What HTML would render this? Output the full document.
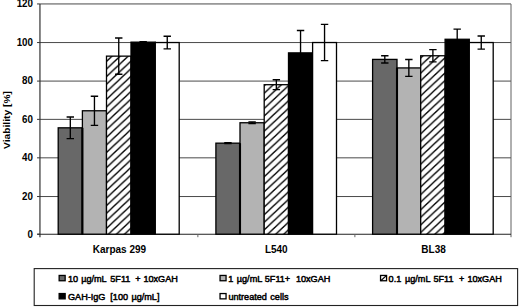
<!DOCTYPE html>
<html><head><meta charset="utf-8"><style>
html,body{margin:0;padding:0;background:#fff;}
body{width:520px;height:307px;overflow:hidden;font-family:"Liberation Sans",sans-serif;}
svg{display:block}
text{font-family:"Liberation Sans",sans-serif;fill:#000}
.b{font-weight:bold}
.l{font-size:9.5px;stroke:#000;stroke-width:0.5px;stroke-linejoin:round}
</style></head><body>
<svg width="520" height="307" viewBox="0 0 520 307">
<defs>
<pattern id="h0" width="8.07" height="7.59" patternUnits="userSpaceOnUse" patternTransform="translate(107,144.4)"><rect width="8.07" height="7.59" fill="#fff"/><path d="M-8.07 7.59L8.07 -7.59M0 15.18L16.14 0M-8.07 15.18L16.14 -7.59" stroke="#000" stroke-width="1.35" fill="none"/></pattern><pattern id="h1" width="8.07" height="7.59" patternUnits="userSpaceOnUse" patternTransform="translate(264.2,131.2)"><rect width="8.07" height="7.59" fill="#fff"/><path d="M-8.07 7.59L8.07 -7.59M0 15.18L16.14 0M-8.07 15.18L16.14 -7.59" stroke="#000" stroke-width="1.35" fill="none"/></pattern><pattern id="h2" width="8.07" height="7.59" patternUnits="userSpaceOnUse" patternTransform="translate(420.7,133.8)"><rect width="8.07" height="7.59" fill="#fff"/><path d="M-8.07 7.59L8.07 -7.59M0 15.18L16.14 0M-8.07 15.18L16.14 -7.59" stroke="#000" stroke-width="1.35" fill="none"/></pattern>
</defs>
<rect width="520" height="307" fill="#fff"/>

<line x1="39.95" x2="511.0" y1="196.54" y2="196.54" stroke="#4a4a4a" stroke-width="1"/>
<line x1="39.95" x2="511.0" y1="157.84" y2="157.84" stroke="#4a4a4a" stroke-width="1"/>
<line x1="39.95" x2="511.0" y1="119.37" y2="119.37" stroke="#4a4a4a" stroke-width="1"/>
<line x1="39.95" x2="511.0" y1="81.08" y2="81.08" stroke="#4a4a4a" stroke-width="1"/>
<line x1="39.95" x2="511.0" y1="42.55" y2="42.55" stroke="#4a4a4a" stroke-width="1"/>
<line x1="39.95" x2="511.0" y1="3.95" y2="3.95" stroke="#4a4a4a" stroke-width="1"/>
<line x1="511.0" x2="511.0" y1="3.95" y2="237.2" stroke="#606060" stroke-width="1"/>
<line x1="39.95" x2="39.95" y1="3.95" y2="237.2" stroke="#2a2a2a" stroke-width="1.15"/>
<line x1="37.25" x2="511.0" y1="234.2" y2="234.2" stroke="#222" stroke-width="1.1"/>
<line x1="37.050000000000004" x2="39.95" y1="234.20" y2="234.20" stroke="#333" stroke-width="1"/>
<text class="b" transform="translate(33,237.60) scale(0.96,1)" font-size="10.2" text-anchor="end">0</text>
<line x1="37.050000000000004" x2="39.95" y1="196.54" y2="196.54" stroke="#333" stroke-width="1"/>
<text class="b" transform="translate(33,199.94) scale(0.96,1)" font-size="10.2" text-anchor="end">20</text>
<line x1="37.050000000000004" x2="39.95" y1="157.84" y2="157.84" stroke="#333" stroke-width="1"/>
<text class="b" transform="translate(33,161.24) scale(0.96,1)" font-size="10.2" text-anchor="end">40</text>
<line x1="37.050000000000004" x2="39.95" y1="119.37" y2="119.37" stroke="#333" stroke-width="1"/>
<text class="b" transform="translate(33,122.77) scale(0.96,1)" font-size="10.2" text-anchor="end">60</text>
<line x1="37.050000000000004" x2="39.95" y1="81.08" y2="81.08" stroke="#333" stroke-width="1"/>
<text class="b" transform="translate(33,84.48) scale(0.96,1)" font-size="10.2" text-anchor="end">80</text>
<line x1="37.050000000000004" x2="39.95" y1="42.55" y2="42.55" stroke="#333" stroke-width="1"/>
<text class="b" transform="translate(33,45.95) scale(0.96,1)" font-size="10.2" text-anchor="end">100</text>
<line x1="37.050000000000004" x2="39.95" y1="3.95" y2="3.95" stroke="#333" stroke-width="1"/>
<text class="b" transform="translate(33,7.35) scale(0.96,1)" font-size="10.2" text-anchor="end">120</text>
<line x1="197.87" x2="197.87" y1="234.2" y2="237.2" stroke="#666" stroke-width="1"/>
<line x1="354.88" x2="354.88" y1="234.2" y2="237.2" stroke="#666" stroke-width="1"/>
<rect x="58.20" y="127.82" width="24.20" height="106.38" fill="#686868" stroke="#000" stroke-width="1.3"/>
<rect x="82.40" y="110.77" width="24.10" height="123.43" fill="#b3b3b3" stroke="#000" stroke-width="1.3"/>
<rect x="106.50" y="56.14" width="24.50" height="178.06" fill="url(#h0)" stroke="#000" stroke-width="1.3"/>
<rect x="131.00" y="42.15" width="24.30" height="192.05" fill="#000" stroke="#000" stroke-width="1.3"/>
<rect x="155.30" y="42.53" width="23.90" height="191.67" fill="#fff" stroke="#000" stroke-width="1.3"/>
<line x1="82.40" x2="82.40" y1="127.82" y2="234.2" stroke="#000" stroke-width="2.1"/>
<path d="M70.30 116.98V138.67M66.60 116.98h7.4M66.60 138.67h7.4" stroke="#000" stroke-width="1.35" fill="none"/>
<path d="M94.45 96.20V125.33M90.75 96.20h7.4M90.75 125.33h7.4" stroke="#000" stroke-width="1.35" fill="none"/>
<path d="M118.75 38.03V74.25M115.05 38.03h7.4M115.05 74.25h7.4" stroke="#000" stroke-width="1.35" fill="none"/>
<path d="M143.15 41.57V42.72M139.45 41.57h7.4M139.45 42.72h7.4" stroke="#000" stroke-width="1.35" fill="none"/>
<path d="M167.25 36.21V48.86M163.55 36.21h7.4M163.55 48.86h7.4" stroke="#000" stroke-width="1.35" fill="none"/>
<rect x="215.90" y="143.16" width="24.10" height="91.04" fill="#686868" stroke="#000" stroke-width="1.3"/>
<rect x="240.00" y="122.75" width="24.20" height="111.45" fill="#b3b3b3" stroke="#000" stroke-width="1.3"/>
<rect x="264.20" y="84.70" width="24.30" height="149.50" fill="url(#h1)" stroke="#000" stroke-width="1.3"/>
<rect x="288.50" y="52.88" width="24.10" height="181.32" fill="#000" stroke="#000" stroke-width="1.3"/>
<rect x="312.60" y="42.53" width="23.90" height="191.67" fill="#fff" stroke="#000" stroke-width="1.3"/>
<line x1="240.00" x2="240.00" y1="143.16" y2="234.2" stroke="#000" stroke-width="2.1"/>
<path d="M227.95 142.68V143.64M224.25 142.68h7.4M224.25 143.64h7.4" stroke="#000" stroke-width="1.35" fill="none"/>
<path d="M252.10 121.88V123.61M248.40 121.88h7.4M248.40 123.61h7.4" stroke="#000" stroke-width="1.35" fill="none"/>
<path d="M276.35 79.72V89.68M272.65 79.72h7.4M272.65 89.68h7.4" stroke="#000" stroke-width="1.35" fill="none"/>
<path d="M300.55 30.46V75.31M296.85 30.46h7.4M296.85 75.31h7.4" stroke="#000" stroke-width="1.35" fill="none"/>
<path d="M324.55 24.42V60.65M320.85 24.42h7.4M320.85 60.65h7.4" stroke="#000" stroke-width="1.35" fill="none"/>
<rect x="372.60" y="59.40" width="24.40" height="174.80" fill="#686868" stroke="#000" stroke-width="1.3"/>
<rect x="397.00" y="67.93" width="23.70" height="166.27" fill="#b3b3b3" stroke="#000" stroke-width="1.3"/>
<rect x="420.70" y="55.76" width="24.40" height="178.44" fill="url(#h2)" stroke="#000" stroke-width="1.3"/>
<rect x="445.10" y="39.27" width="24.20" height="194.93" fill="#000" stroke="#000" stroke-width="1.3"/>
<rect x="469.30" y="42.53" width="23.90" height="191.67" fill="#fff" stroke="#000" stroke-width="1.3"/>
<line x1="397.00" x2="397.00" y1="67.93" y2="234.2" stroke="#000" stroke-width="2.1"/>
<path d="M384.80 55.76V63.04M381.10 55.76h7.4M381.10 63.04h7.4" stroke="#000" stroke-width="1.35" fill="none"/>
<path d="M408.85 59.50V76.36M405.15 59.50h7.4M405.15 76.36h7.4" stroke="#000" stroke-width="1.35" fill="none"/>
<path d="M432.90 49.62V61.89M429.20 49.62h7.4M429.20 61.89h7.4" stroke="#000" stroke-width="1.35" fill="none"/>
<path d="M457.20 29.12V49.43M453.50 29.12h7.4M453.50 49.43h7.4" stroke="#000" stroke-width="1.35" fill="none"/>
<path d="M481.25 36.02V49.05M477.55 36.02h7.4M477.55 49.05h7.4" stroke="#000" stroke-width="1.35" fill="none"/>
<text class="b" transform="translate(10.4,120) rotate(-90) scale(1.08,1)" font-size="9.5" text-anchor="middle">Viability [%]</text>
<text class="b" x="119.4" y="252.8" font-size="10" text-anchor="middle">Karpas 299</text>
<text class="b" x="276.3" y="252.8" font-size="10" text-anchor="middle">L540</text>
<text class="b" x="433.6" y="252.8" font-size="10" text-anchor="middle">BL38</text>
<rect x="34.2" y="268.6" width="483.4" height="36.9" fill="#fff" stroke="#222" stroke-width="1.1"/>
<rect x="59.15" y="275.45" width="6.0" height="5.3" fill="#686868" stroke="#000" stroke-width="1.3"/>
<text class="l" transform="scale(0.96,1)" y="281.7"><tspan x="70.83">10</tspan><tspan x="84.58">µg/mL</tspan><tspan x="114.90">5F11</tspan><tspan x="140.83">+</tspan><tspan x="149.38">10xGAH</tspan></text>
<rect x="220.05" y="275.45" width="6.0" height="5.3" fill="#b3b3b3" stroke="#000" stroke-width="1.3"/>
<text class="l" transform="scale(0.96,1)" y="281.7"><tspan x="237.81">1</tspan><tspan x="246.67">µg/mL</tspan><tspan x="275.83">5F11+</tspan><tspan x="308.23">10xGAH</tspan></text>
<rect x="380.55" y="275.45" width="6.0" height="5.3" fill="#fff" stroke="#000" stroke-width="1.3"/>
<path d="M380.80 280.70L386.30 275.60" stroke="#000" stroke-width="1.2"/>
<text class="l" transform="scale(0.96,1)" y="281.7"><tspan x="404.79">0.1</tspan><tspan x="421.88">µg/mL</tspan><tspan x="451.46">5F11</tspan><tspan x="478.12">+</tspan><tspan x="486.88">10xGAH</tspan></text>
<rect x="59.15" y="293.55" width="6.0" height="5.3" fill="#000" stroke="#000" stroke-width="1.3"/>
<text class="l" transform="scale(0.96,1)" y="299.8"><tspan x="70.83">GAH-IgG</tspan><tspan x="114.90">[100</tspan><tspan x="136.88">µg/mL]</tspan></text>
<rect x="220.05" y="293.55" width="6.0" height="5.3" fill="#fff" stroke="#000" stroke-width="1.3"/>
<text class="l" transform="scale(0.96,1)" y="299.8"><tspan x="237.92">untreated</tspan><tspan x="281.56">cells</tspan></text>
</svg></body></html>
